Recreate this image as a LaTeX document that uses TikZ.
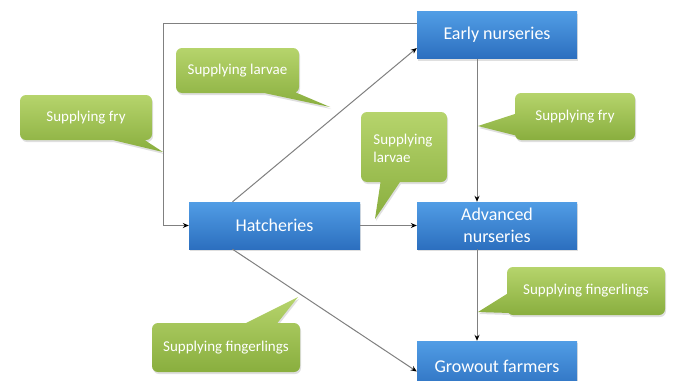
\documentclass[tikz,border=0pt]{standalone}
\usepackage{fontspec}
\setmainfont{Carlito}
\usetikzlibrary{arrows.meta,shadows}
\definecolor{blueTop}{HTML}{519DE5}
\definecolor{blueBot}{HTML}{2C6FBF}
\definecolor{greenTop}{HTML}{B6D46C}
\definecolor{greenBot}{HTML}{89AE3E}
\definecolor{lineGray}{HTML}{808080}
\tikzset{
  bluebox/.style={rectangle, minimum height=47pt, inner sep=0pt,
    top color=blueTop, bottom color=blueBot, text=white, align=center,
    font=\fontsize{18}{22}\selectfont,
    drop shadow={shadow xshift=1pt, shadow yshift=-2pt, opacity=0.25}},
  callfill/.style={top color=greenTop, bottom color=greenBot,
    drop shadow={shadow xshift=1pt, shadow yshift=-2pt, opacity=0.25}},
  calltext/.style={text=white, align=left, inner sep=0pt,
    font=\fontsize{15}{18}\selectfont},
  conn/.style={draw=lineGray, line width=1pt,
    -{Stealth[length=6pt,width=5pt,fill=black,color=black]}}
}
\begin{document}
\begin{tikzpicture}[x=1pt,y=-1pt]
\useasboundingbox (0,0) rectangle (676,380);
\clip (0,0) rectangle (676,380);
\fill[white] (0,0) rectangle (676,380);

% callout shapes
\path[callfill] [rounded corners=6pt] (20,95) -- (152,95) -- (152,140) -- (20,140) -- cycle
  [sharp corners] (140,137) -- (163,152) -- (100,137) -- cycle;
\path[callfill] [rounded corners=6pt] (176,48) -- (299,48) -- (299,93) -- (176,93) -- cycle
  [sharp corners] (290,90) -- (330,107) -- (250,90) -- cycle;
\path[callfill] [rounded corners=6pt] (515,93) -- (635,93) -- (635,140) -- (515,140) -- cycle
  [sharp corners] (518,113) -- (518,136) -- (478,126) -- cycle;
\path[callfill] [rounded corners=6pt] (361,112) -- (447,112) -- (447,182) -- (361,182) -- cycle
  [sharp corners] (402,179) -- (375,219) -- (381,179) -- cycle;
\path[callfill] [rounded corners=6pt] (507,267) -- (665,267) -- (665,315) -- (507,315) -- cycle
  [sharp corners] (510,292) -- (510,313) -- (478,312) -- cycle;
\path[callfill] [rounded corners=6pt] (152,323) -- (300,323) -- (300,372) -- (152,372) -- cycle
  [sharp corners] (240,326) -- (298,297) -- (275,326) -- cycle;

% callout texts
\node[calltext] (t1) at (86,117.5) {Supplying fry};
\node[calltext] (t2) at (237.5,70.5) {Supplying larvae};
\node[calltext] (t3) at (575,116.5) {Supplying fry};
\node[calltext] (t4) at (403,148) {Supplying\\larvae};
\node[calltext] (t5) at (586,291) {Supplying fingerlings};
\node[calltext] (t6) at (226,347.5) {Supplying fingerlings};

% boxes
\node[bluebox, minimum width=160pt] (early) at (497,35) {Early nurseries};
\node[bluebox, minimum width=171pt] (hatch) at (274.5,225.5) {Hatcheries};
\node[bluebox, minimum width=160pt] (adv) at (497,225.5) {Advanced\\nurseries};
\node[bluebox, minimum width=160pt, minimum height=51pt] (grow) at (497,366.5) {Growout farmers};

% connectors
\coordinate (tl) at (163,23);
\draw[conn] ([yshift=12pt]early.west) -- (tl) |- (hatch.west);
\draw[conn] ([xshift=-42pt]hatch.north) -- ([yshift=-13pt]early.west);
\draw[conn] ([xshift=-20pt]early.south) -- ([xshift=-20pt]adv.north);
\draw[conn] (hatch.east) -- (adv.west);
\draw[conn] ([xshift=-20pt]adv.south) -- ([xshift=-20pt]grow.north);
\draw[conn] ([xshift=-42pt]hatch.south) -- ([yshift=-5pt]grow.west);
\end{tikzpicture}
\end{document}
